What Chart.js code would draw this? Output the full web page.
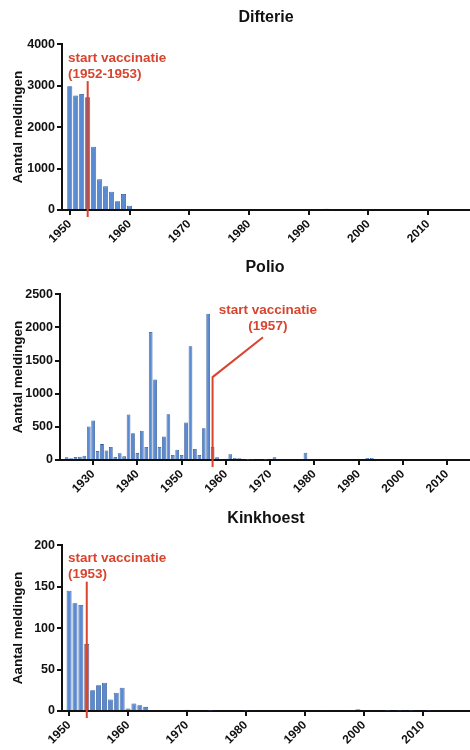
<!DOCTYPE html>
<html>
<head>
<meta charset="utf-8">
<script src="https://cdn.jsdelivr.net/npm/chart.js@4.4.1/dist/chart.umd.min.js"></script>
<style>
  html, body { margin: 0; padding: 0; background: #fff; }
  #wrap { position: relative; width: 470px; height: 750px; }
  .panel { position: absolute; left: 0; width: 470px; height: 250px; }
</style>
</head>
<body>
<div id="wrap">
  <div class="panel" style="top:0"><canvas id="difterie"></canvas></div>
  <div class="panel" style="top:250px"><canvas id="polio"></canvas></div>
  <div class="panel" style="top:501px"><canvas id="kinkhoest"></canvas></div>
</div>
<script>
// Difterie
const difterieYears = [1950, 1951, 1952, 1953, 1954, 1955, 1956, 1957, 1958, 1959, 1960, 1992, 1993];
const difterieCounts = [2985, 2760, 2800, 2720, 1525, 740, 570, 440, 210, 385, 105, 25, 30];

// Polio
const polioYears = [1924, 1925, 1926, 1927, 1928, 1929, 1930, 1931, 1932, 1933, 1934, 1935, 1936, 1937,
  1938, 1939, 1940, 1941, 1942, 1943, 1944, 1945, 1946, 1947, 1948, 1949, 1950, 1951, 1952, 1953,
  1954, 1955, 1956, 1957, 1958, 1959, 1960, 1961, 1962, 1963, 1964, 1965, 1966, 1969, 1971, 1978, 1992, 1993];
const polioCounts = [40, 25, 45, 50, 65, 505, 595, 135, 240, 145, 195, 45, 100, 55,
  685, 405, 105, 440, 195, 1930, 1215, 195, 355, 690, 75, 155, 75, 565, 1715, 165,
  75, 480, 2205, 200, 40, 10, 20, 85, 30, 25, 15, 5, 8, 5, 40, 110, 30, 30];

// Kinkhoest
const kinkhoestYears = [1950, 1951, 1952, 1953, 1954, 1955, 1956, 1957, 1958, 1959, 1960, 1961, 1962, 1963,
  1970, 1974, 1980, 1993, 1996, 1997, 1998, 1999, 2004, 2006, 2008, 2011, 2012];
const kinkhoestCounts = [145, 130, 128, 81, 25, 31, 34, 14, 22, 28, 3, 9, 7, 5,
  1.5, 0.5, 0.5, 1, 1.2, 1.2, 1, 2, 0.5, 0.5, 0.5, 0.7, 1];

// tick labels
const difterieXTicks = [1950, 1960, 1970, 1980, 1990, 2000, 2010];
const polioXTicks = [1930, 1940, 1950, 1960, 1970, 1980, 1990, 2000, 2010];
const kinkhoestXTicks = [1950, 1960, 1970, 1980, 1990, 2000, 2010];
const difterieYTicks = [0, 1000, 2000, 3000, 4000];
const polioYTicks = [0, 500, 1000, 1500, 2000, 2500];
const kinkhoestYTicks = [0, 50, 100, 150, 200];

// start vaccinatie
const difterieStart = 1953;
const polioStart = 1957;
const kinkhoestStart = 1953;

const FONT = '"Liberation Sans", Arial, sans-serif';
const RED = '#d8452f';
const BLUE = '#5a8ad2';
const BLUE_EDGE = '#2c5796';
const MUTED = '#86698a';
const MUTED_EDGE = '#5a4260';

// red line + label for the start of vaccination
const vaccinPlugin = {
    id: 'vaccinatie',
    afterDatasetsDraw(chart, args, opts) {
        const { ctx, chartArea, scales: { x, y } } = chart;
        const lx = x.getPixelForValue(opts.year);
        const top = y.getPixelForValue(opts.lineTop);
        ctx.save();
        ctx.strokeStyle = RED;
        ctx.lineWidth = 2;
        ctx.beginPath();
        ctx.moveTo(lx, chartArea.bottom + 7);
        ctx.lineTo(lx, top);
        if (opts.bend) ctx.lineTo(x.getPixelForValue(opts.bend[0]), y.getPixelForValue(opts.bend[1]));
        ctx.stroke();
        ctx.fillStyle = RED;
        ctx.font = 'bold 13.5px ' + FONT;
        ctx.textAlign = opts.align;
        ctx.textBaseline = 'middle';
        opts.text.forEach((t, i) => {
            ctx.fillText(t, x.getPixelForValue(opts.textX), y.getPixelForValue(opts.textY[i]));
        });
        ctx.restore();
    }
};

function makeChart(id, title, years, counts, xTicks, yTicks, xMin, xMax, yAxisWidth, vaccin) {
    const ctx = document.getElementById(id).getContext('2d');
    const isStart = years.map(yr => yr === vaccin.year);
    return new Chart(ctx, {
        type: 'bar',
        data: {
            datasets: [{
                data: years.map((yr, i) => ({ x: yr, y: counts[i] })),
                backgroundColor: isStart.map(s => s ? MUTED : BLUE),
                borderColor: isStart.map(s => s ? MUTED_EDGE : BLUE_EDGE),
                borderWidth: 0.8,
                barPercentage: 0.84,
                categoryPercentage: 1
            }]
        },
        options: {
            responsive: true,
            maintainAspectRatio: false,
            animation: false,
            layout: { padding: 0 },
            plugins: {
                legend: { display: false },
                tooltip: { enabled: false },
                title: {
                    display: true,
                    text: title,
                    fullSize: false,
                    color: '#111',
                    font: { family: FONT, size: 16, weight: 'bold' },
                    padding: { top: 8, bottom: 17 }
                },
                vaccinatie: vaccin
            },
            scales: {
                x: {
                    type: 'linear',
                    min: xMin,
                    max: xMax,
                    offset: false,
                    afterFit: s => { s.height = 40; },
                    afterBuildTicks: s => { s.ticks = xTicks.map(v => ({ value: v })); },
                    grid: { display: true, drawOnChartArea: false, drawTicks: true, tickLength: 5, color: '#111', lineWidth: 2, offset: false },
                    border: { display: true, color: '#111', width: 2 },
                    ticks: {
                        autoSkip: false,
                        minRotation: 45,
                        maxRotation: 45,
                        padding: 2,
                        color: '#111',
                        font: { family: FONT, size: 12, weight: 'bold' },
                        callback: v => String(v)
                    }
                },
                y: {
                    min: 0,
                    max: yTicks[yTicks.length - 1],
                    afterFit: s => { s.width = yAxisWidth; },
                    afterBuildTicks: s => { s.ticks = yTicks.map(v => ({ value: v })); },
                    grid: { display: true, drawOnChartArea: false, drawTicks: true, tickLength: 5, color: '#111', lineWidth: 2 },
                    border: { display: true, color: '#111', width: 2 },
                    ticks: {
                        padding: 2,
                        color: '#111',
                        font: { family: FONT, size: 12.5, weight: 'bold' },
                        callback: v => String(v)
                    },
                    title: {
                        display: true,
                        text: 'Aantal meldingen',
                        color: '#111',
                        font: { family: FONT, size: 13.5, weight: 'bold' },
                        padding: { top: 10, bottom: 0 }
                    }
                }
            }
        },
        plugins: [vaccinPlugin]
    });
}

makeChart('difterie', 'Difterie', difterieYears, difterieCounts, difterieXTicks, difterieYTicks,
    1948.7, 2017, 62, {
        year: difterieStart, lineTop: 3110, align: 'left', textX: 1949.7,
        text: ['start vaccinatie', '(1952-1953)'], textY: [3663, 3277]
    });

makeChart('polio', 'Polio', polioYears, polioCounts, polioXTicks, polioYTicks,
    1922.5, 2015.2, 60, {
        year: polioStart, lineTop: 1250, bend: [1968.4, 1852], align: 'center', textX: 1969.5,
        text: ['start vaccinatie', '(1957)'], textY: [2259, 2018]
    });

makeChart('kinkhoest', 'Kinkhoest', kinkhoestYears, kinkhoestCounts, kinkhoestXTicks, kinkhoestYTicks,
    1948.8, 2018, 62, {
        year: kinkhoestStart, lineTop: 156, align: 'left', textX: 1949.8,
        text: ['start vaccinatie', '(1953)'], textY: [184.4, 165.3]
    });
</script>
</body>
</html>
